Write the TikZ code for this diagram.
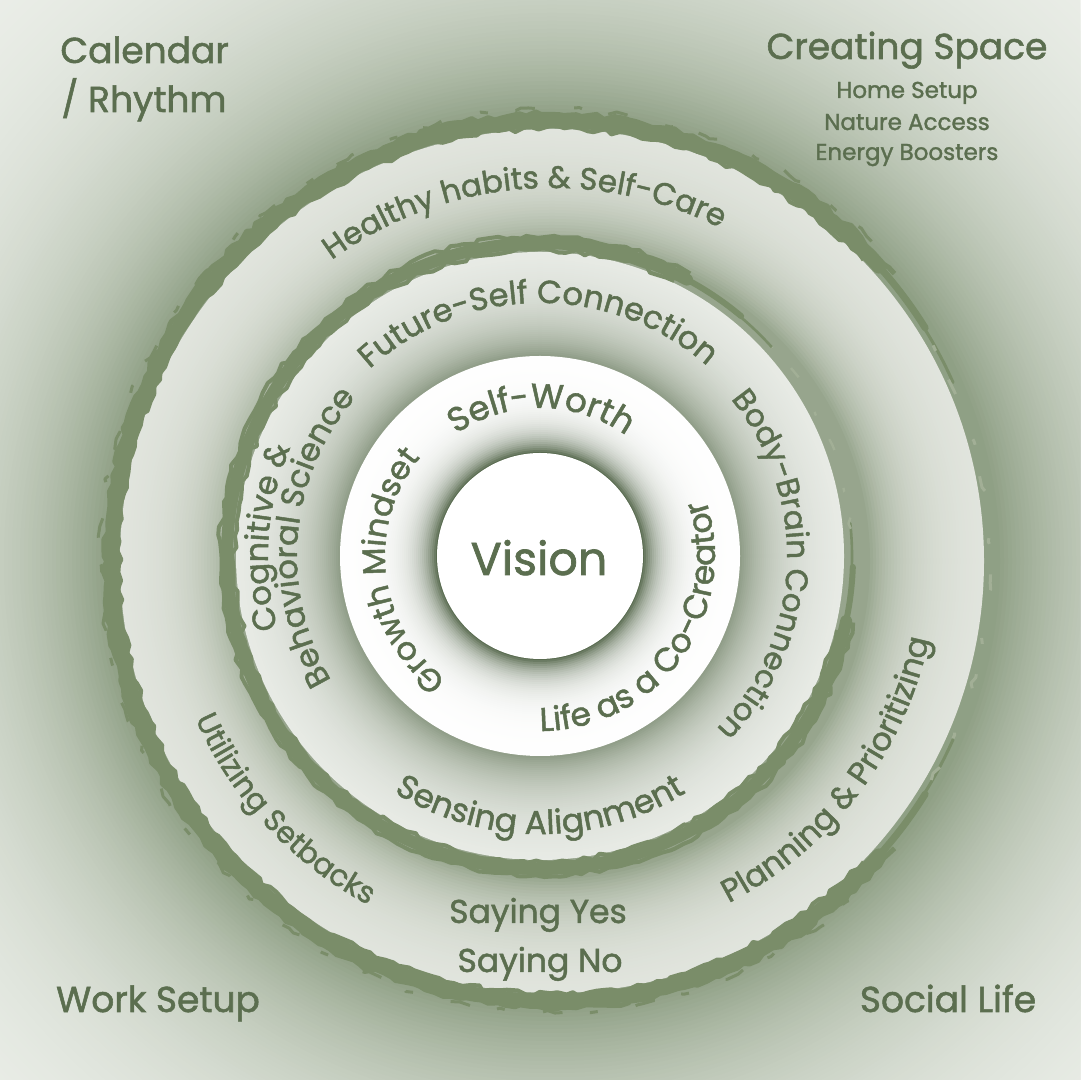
\documentclass[tikz,border=0pt]{standalone}
\usepackage{fontspec}
\setmainfont{Poppins}[FakeBold=1.5]
\usetikzlibrary{decorations.text,decorations.pathmorphing}
\definecolor{Ink}{HTML}{5B6E4F}
\definecolor{Brush}{HTML}{7A8D69}
\definecolor{BgA}{HTML}{8D9E83}
\definecolor{BgE}{HTML}{F3F5F1}
\definecolor{OutA}{HTML}{97A58D}
\definecolor{OutD}{HTML}{E6E9E3}
\definecolor{MidA}{HTML}{8C9A84}
\definecolor{MidD}{HTML}{EFF1ED}
\definecolor{InA}{HTML}{4F6245}
\newcommand\arcfont[1]{\fontsize{#1}{#1}\selectfont}

\begin{document}
\begin{tikzpicture}[x=0.5pt,y=0.5pt,
    brush/.style={draw=Brush,line width=#1,line cap=round},
    rough/.style={draw=Brush,line width=#1,line join=round,decorate,
      decoration={random steps,segment length=4pt,amplitude=1.3pt}},
    arctext/.style={decorate,decoration={text along path,text align=center,
      text color=Ink,text={#1}}},
    title/.style={text=Ink,font=\arcfont{18},inner sep=0pt},
    small/.style={text=Ink,font=\arcfont{11.5},inner sep=0pt,anchor=base}
  ]
  \pgfmathsetseed{42}
  \path[use as bounding box] (0,0) rectangle (1080,1080);
  \clip (0,0) rectangle (1080,1080);
  \coordinate (c) at (540,524);
  \coordinate (c4) at (552,519);

  % background and rings, outside in
  \foreach \r in {800,796,...,448} {
    \pgfmathsetmacro\p{100*exp(-(\r-445)/140)}
    \fill[BgA!\p!BgE] (c4) circle[radius=\r];
  }
  \foreach \r in {432,429,...,318} {
    \pgfmathsetmacro\p{100*exp(-(\r-318)/42)}
    \fill[OutA!\p!OutD] (c4) circle[radius=\r];
  }
  \draw[brush=7pt] (c4) ++(42:440) arc[start angle=42,end angle=318,radius=440];
  \draw[brush=3.5pt] (c4) ++(32:440) arc[start angle=32,end angle=328,radius=440];
  \draw[brush=1.5pt] (c4) ++(24:439) arc[start angle=24,end angle=336,radius=439];
  \draw[rough=2pt] (c4) ++(44:433) arc[start angle=44,end angle=316,radius=433];
  \draw[rough=2.5pt] (c4) ++(40:447) arc[start angle=40,end angle=320,radius=447];
  \draw[rough=1.5pt,dash pattern=on 10pt off 14pt on 4pt off 20pt]
    (c4) ++(45:452) arc[start angle=45,end angle=315,radius=452];
  \draw[rough=1.5pt,draw=Brush!70,dash pattern=on 8pt off 16pt on 3pt off 25pt]
    (c4) ++(-30:438) arc[start angle=-30,end angle=30,radius=438];

  \foreach \r in {304,302,...,200} {
    \pgfmathsetmacro\p{100*exp(-(\r-200)/40)}
    \fill[MidA!\p!MidD] (c) circle[radius=\r];
  }
  \draw[brush=6pt] (c) ++(62:313) arc[start angle=62,end angle=348,radius=313];
  \draw[brush=3pt] (c) ++(50:313) arc[start angle=50,end angle=358,radius=313];
  \draw[brush=1.3pt] (c) ++(42:312) arc[start angle=42,end angle=366,radius=312];
  \draw[rough=2pt] (c) ++(64:306) arc[start angle=64,end angle=346,radius=306];
  \draw[rough=2pt] (c) ++(62:320) arc[start angle=62,end angle=348,radius=320];
  \draw[rough=1.2pt,draw=Brush!70,dash pattern=on 6pt off 14pt on 2pt off 20pt]
    (c) ++(5:312) arc[start angle=5,end angle=42,radius=312];

  \foreach \r in {200,198,...,104} {
    \pgfmathsetmacro\p{100*exp(-(\r-103)/17)}
    \fill[InA!\p!white] (c) circle[radius=\r];
  }
  \fill[white] (c) circle[radius=103];

  % ring texts
  \path[arctext={|\arcfont{17}|Self-Worth}]
    (c) ++(169.5:148) arc[start angle=169.5,end angle=9.5,radius=148];
  \path[arctext={|\arcfont{16}|Growth Mindset}]
    (c) ++(266.7:155) arc[start angle=266.7,end angle=106.7,radius=155];
  \path[arctext={|\arcfont{16.5}|Life as a Co-Creator}]
    (c) ++(244.5:175) arc[start angle=244.5,end angle=404.5,radius=175];
  \path[arctext={|\arcfont{16}|Future-Self Connection}]
    (c) ++(170.5:253) arc[start angle=170.5,end angle=10.5,radius=253];
  \path[arctext={|\arcfont{16}|Cognitive {\&}}]
    (c) ++(256:272) arc[start angle=256,end angle=96,radius=272];
  \path[arctext={|\arcfont{16}|Behavioral Science}]
    (c) ++(255:243) arc[start angle=255,end angle=95,radius=243];
  \path[arctext={|\arcfont{15.5}|Body-Brain Connection}]
    (c) ++(77.5:247) arc[start angle=77.5,end angle=-82.5,radius=247];
  \path[arctext={|\arcfont{16.5}|Sensing Alignment}]
    (c) ++(190:278) arc[start angle=190,end angle=350,radius=278];
  \path[arctext={|\arcfont{15.5}|Healthy habits {\&} Self-Care}]
    (c4) ++(174.7:373) arc[start angle=174.7,end angle=14.7,radius=373];
  \path[arctext={|\arcfont{15}|Utilizing Setbacks}]
    (c4) ++(142.9:390) arc[start angle=142.9,end angle=302.9,radius=390];
  \path[arctext={|\arcfont{16}|Planning {\&} Prioritizing}]
    (c4) ++(-117.2:385) arc[start angle=-117.2,end angle=42.8,radius=385];

  \node[title,anchor=base,font=\arcfont{23}] (vision) at (539,505) {Vision};
  \node[title,anchor=base,font=\arcfont{16.5}] (yes) at (538,157) {Saying Yes};
  \node[title,anchor=base,font=\arcfont{16.5}] (no) at (540,108) {Saying No};

  % corner labels
  \node[title,anchor=base west] (calendar) at (60,1017) {Calendar};
  \node[title,anchor=base west] (rhythm) at (61,968) {/ Rhythm};
  \node[title,anchor=base] (space) at (907,1021) {Creating Space};
  \node[small] (home) at (907,982) {Home Setup};
  \node[small] (nature) at (907,950) {Nature Access};
  \node[small] (energy) at (907,920) {Energy Boosters};
  \node[title,anchor=base] (work) at (158,68) {Work Setup};
  \node[title,anchor=base] (social) at (948,68) {Social Life};
\end{tikzpicture}
\end{document}
